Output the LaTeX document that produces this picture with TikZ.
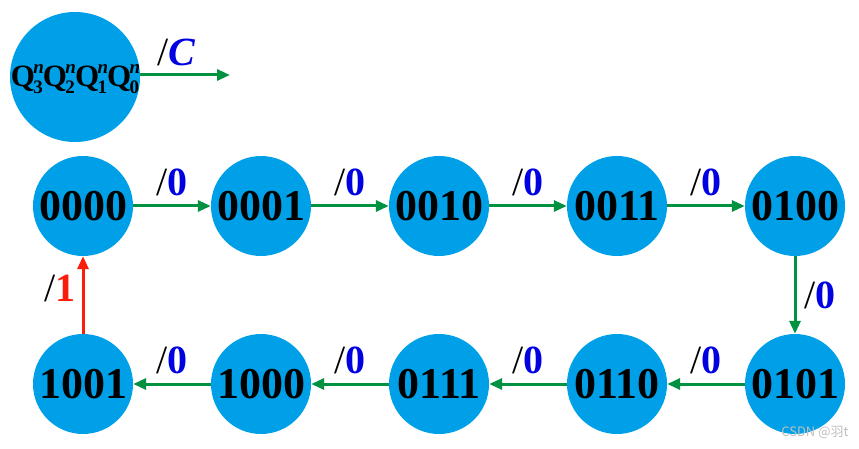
\documentclass[tikz,border=0pt]{standalone}
\usepackage{fontspec}
\setmainfont{Liberation Serif}
\newfontfamily\cjkfont{Noto Sans CJK SC}
\usetikzlibrary{arrows.meta}
\definecolor{nodeblue}{RGB}{0,160,233}
\definecolor{arrgreen}{RGB}{0,145,65}
\definecolor{arrred}{RGB}{250,30,10}
\definecolor{lblblue}{RGB}{0,0,225}
\tikzset{
  state/.style={circle,fill=nodeblue,minimum size=100pt,inner sep=0pt,font=\fontsize{44}{44}\selectfont\bfseries},
  trans/.style={draw=arrgreen,line width=3pt,-{Triangle[length=13pt,width=11pt]}},
  back/.style={draw=arrred,line width=3pt,-{Triangle[length=13pt,width=11pt]}},
  lbl/.style={font=\fontsize{40}{40}\selectfont,inner sep=0pt}
}
\newcommand{\zlab}{/\textcolor{lblblue}{\bfseries 0}}
\newcommand{\qbit}[1]{\textbf{Q}\kern-1.5pt\makebox[0pt][l]{\raisebox{0.42em}{\fontsize{19}{19}\selectfont\bfseries\itshape n}}\raisebox{-0.22em}{\fontsize{19}{19}\selectfont\bfseries #1}}
\begin{document}
\begin{tikzpicture}[x=1pt,y=-1pt]
\useasboundingbox (0,0) rectangle (859,449);
\node[circle,fill=nodeblue,minimum size=130pt,inner sep=0pt] (leg) at (75,77) {};
\node[font=\fontsize{31}{31}\selectfont,inner sep=0pt] (legtext) at (75,79) {\qbit{3}\qbit{2}\qbit{1}\qbit{0}};
\coordinate (legend end) at (230,75);
\draw[trans] (leg.east |- legend end) -- (legend end) node[lbl,pos=0.4,above=8pt] {/\textcolor{lblblue}{\bfseries\itshape C}};
\node[state] (s0) at (83,206) {0000};
\node[state] (s1) at (261,206) {0001};
\node[state] (s2) at (439,206) {0010};
\node[state] (s3) at (617,206) {0011};
\node[state] (s4) at (795,206) {0100};
\node[state] (s5) at (795,384) {0101};
\node[state] (s6) at (617,384) {0110};
\node[state] (s7) at (439,384) {0111};
\node[state] (s8) at (261,384) {1000};
\node[state] (s9) at (83,384) {1001};
\draw[trans] (s0) -- node[lbl,above=9pt] {\zlab} (s1);
\draw[trans] (s1) -- node[lbl,above=9pt] {\zlab} (s2);
\draw[trans] (s2) -- node[lbl,above=9pt] {\zlab} (s3);
\draw[trans] (s3) -- node[lbl,above=9pt] {\zlab} (s4);
\draw[trans] (s4) -- node[lbl,right=8pt] {\zlab} (s5);
\draw[trans] (s5) -- node[lbl,above=9pt] {\zlab} (s6);
\draw[trans] (s6) -- node[lbl,above=9pt] {\zlab} (s7);
\draw[trans] (s7) -- node[lbl,above=9pt] {\zlab} (s8);
\draw[trans] (s8) -- node[lbl,above=9pt] {\zlab} (s9);
\draw[back] (s9) -- node[lbl,pos=0.58,left=6pt] {/\textcolor{arrred}{\bfseries 1}} (s0);
\node[font=\fontsize{13}{13}\selectfont\cjkfont,text=black!25,anchor=east] (wm) at (852,432) {CSDN @羽t};
\end{tikzpicture}
\end{document}
